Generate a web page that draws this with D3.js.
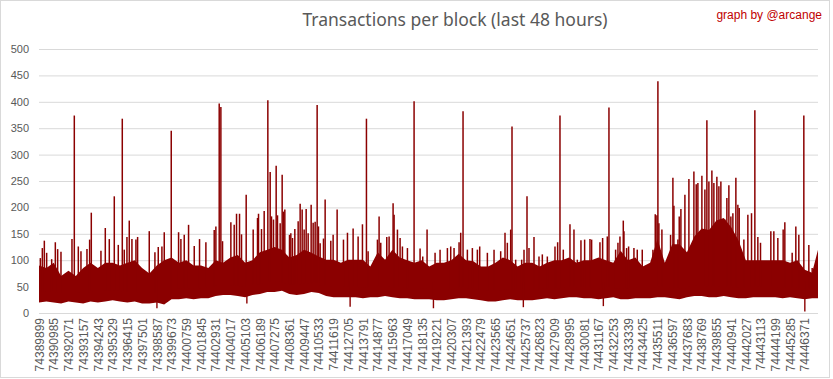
<!DOCTYPE html>
<html><head><meta charset="utf-8">
<script src="https://cdn.jsdelivr.net/npm/d3@7"></script>
<style>body{margin:0;background:#fff}svg{display:block}</style>
</head><body>
<svg id="c" width="833" height="379"></svg>
<script>
// ---- DATA ----
const firstBlock = 74389899;
const lastBlock = 74447350;
const yTicks = [0,50,100,150,200,250,300,350,400,450,500];
const xTickLabels = [74389899,74390985,74392071,74393157,74394243,74395329,74396415,74397501,74398587,74399673,
74400759,74401845,74402931,74404017,74405103,74406189,74407275,74408361,74409447,74410533,
74411619,74412705,74413791,74414877,74415963,74417049,74418135,74419221,74420307,74421393,
74422479,74423565,74424651,74425737,74426823,74427909,74428995,74430081,74431167,74432253,
74433339,74434425,74435511,74436597,74437683,74438769,74439855,74440941,74442027,74443113,
74444199,74445285,74446371];
// envelope of the dense band, one value per 543 blocks (last = final block)
const bandBlockStep = 543;
const bandTop = [90,85,95,70,80,70,85,95,85,95, 95,90,95,100,85,75,90,100,105,95,
100,90,90,85,100,95,105,110,95,100, 115,120,125,120,105,110,120,114,107,101,
101,95,101,101,101,88,115,101,120,105, 100,95,100,88,95,95,100,112,100,98,
88,88,95,105,100,88,95,95,88,95, 100,100,105,95,100,100,105,100,95,118,
100,105,88,95,140,95,130,130,115,145, 160,157,175,180,163,138,100,100,100,100,
100,100,95,100,82,76,120];
const bandLow = [20,22,20,18,22,20,18,22,20,22,24,22,20,22,18,18,20,16,
26,26,28,26,28,28,32,34,34,32,30,34,36,40,40,42,36,34,
36,40,38,32,30,30,30,30,28,30,30,32,30,28,28,26,26,26,
24,24,26,28,28,26,24,22,22,24,26,24,24,24,26,28,26,
28,30,30,28,28,26,28,30,26,26,28,28,28,30,30,28,26,
30,32,32,30,30,32,30,28,28,30,30,30,30,28,30,28,26,28,28];
// individual blocks reaching above the band
const spikeBlocks = [74389997,74390145,74390292,74390464,74390833,74391103,74391275,74391520,74392331,74392503,
74392798,74392994,74393437,74393633,74393756,74394468,74394788,74395083,74395451,74395746,
74396041,74396188,74396385,74396556,74396753,74397048,74397171,74398030,74398448,74398694,
74398964,74399136,74399652,74400193,74400364,74400610,74400929,74401348,74401738,74402207,
74402821,74402944,74403190,74403312,74403435,74404049,74404295,74404467,74404688,74404835,
74405179,74405695,74406014,74406088,74406309,74406506,74406776,74406948,74407046,74407193,
74407390,74407488,74407685,74407832,74407931,74408029,74408374,74408471,74408594,74408766,
74409012,74409159,74409307,74409454,74409602,74409749,74409970,74410118,74410265,74410412,
74410510,74410633,74410879,74411002,74411419,74411591,74411886,74412353,74412648,74413065,
74413434,74413753,74414048,74414170,74414858,74414981,74415104,74415547,74415719,74416013,
74416087,74416333,74416529,74416701,74417070,74417561,74418003,74418200,74418519,74419109,
74419477,74420018,74420263,74420509,74420878,74421000,74421172,74421491,74421860,74422228,
74422401,74422966,74423458,74423948,74424267,74424439,74424685,74424783,74425054,74425496,
74425668,74425889,74426036,74426405,74426773,74427019,74427388,74427953,74428149,74428321,
74428566,74429058,74429353,74429599,74429868,74430139,74430533,74430655,74431269,74431466,
74431810,74431933,74432424,74432596,74432744,74432990,74433039,74433235,74433382,74433775,
74434021,74434389,74435175,74435347,74435470,74435543,74435617,74435838,74436477,74436649,
74436723,74437018,74437116,74437239,74437534,74437829,74438197,74438369,74438492,74438787,
74439008,74439155,74439303,74439524,74439671,74439892,74440040,74440187,74440482,74440629,
74440777,74440924,74441072,74441293,74441440,74441539,74441883,74442177,74442447,74442693,
74442914,74443110,74443872,74444093,74444388,74444781,74444904,74445445,74445715,74445936,
74446305,74446674,74446920];
const spikeValues = [104,123,137,114,102,134,121,116,140,374, 126,117,121,139,190,118,161,140,221,129,
368,120,144,175,140,139,144,155,115,125, 126,153,345,153,140,148,167,127,140,134,
157,164,397,390,136,172,167,188,188,149, 224,158,180,188,159,193,403,267,183,177,
279,185,170,262,192,196,148,151,142,159, 174,207,196,158,197,151,205,171,173,394,
164,132,141,215,137,148,196,139,152,160, 145,168,368,117,139,183,133,144,145,208,
186,158,142,126,123,401,122,107,158,114, 120,123,126,123,134,152,382,120,123,120,
126,114,120,117,152,133,158,353,101,101, 120,221,123,144,107,111,107,126,134,374,
120,168,158,101,138,139,140,139,134,142, 145,389,120,133,145,175,155,123,126,123,
120,120,120,187,185,439,170,158,148,256, 203,139,183,197,224,254,268,244,246,260,
234,365,249,270,246,258,240,249,177,218, 242,183,189,256,205,199,139,186,189,384,
144,133,155,155,142,158,172,114,164,148, 374,129,85];
// individual blocks falling below the band
const dipBlocks = [74398596,74405229,74412844,74418989,74425619,74431519,74446379];
const dipValues = [9,18,12,9,11,13,3];

// ---- CHART ----
const svg = d3.select("#c");
const plot = {l:39, r:818, t:49, b:313};
const red = "#8b0000";

svg.append("rect").attr("x",0.5).attr("y",0.5).attr("width",829).attr("height",377)
  .attr("fill","#fff").attr("stroke","#d9d9d9");

const x = d3.scaleLinear().domain([firstBlock, lastBlock]).range([plot.l, plot.r]);
const y = d3.scaleLinear().domain([0, 500]).range([plot.b, plot.t]);

// gridlines + y axis
const yAxis = d3.axisLeft(y).tickValues(yTicks).tickSize(-(plot.r - plot.l)).tickPadding(10);
const gy = svg.append("g").attr("transform",`translate(${plot.l},0)`).call(yAxis);
gy.select(".domain").remove();
gy.selectAll(".tick line").attr("stroke","#d9d9d9").attr("stroke-width",1);
gy.selectAll(".tick text").attr("fill","#595959").style("font-family","'Liberation Sans', Arial, sans-serif").style("font-size","11px");

// band
const bandData = bandTop.map((t,i) => ({
  b: i < bandTop.length - 1 ? firstBlock + i*bandBlockStep : lastBlock,
  top: t, low: bandLow[i]
}));
const area = d3.area().x(d => x(d.b)).y0(d => y(d.low)).y1(d => y(d.top)).curve(d3.curveLinear);
svg.append("path").datum(bandData).attr("d", area).attr("fill", red);

const bandLowAt = b => {
  const i = Math.min(bandData.length - 2, Math.max(0, Math.floor((b - firstBlock)/bandBlockStep)));
  return Math.min(bandData[i].low, bandData[i+1].low);
};
const spikes = spikeBlocks.map((b,i) => ({b, v: spikeValues[i]}));
svg.append("g").selectAll("line").data(spikes).join("line")
  .attr("x1", d => x(d.b)).attr("x2", d => x(d.b))
  .attr("y1", d => y(bandLowAt(d.b) + 20)).attr("y2", d => y(d.v))
  .attr("stroke", red).attr("stroke-width", 1.5);
const dips = dipBlocks.map((b,i) => ({b, v: dipValues[i]}));
svg.append("g").selectAll("line").data(dips).join("line")
  .attr("x1", d => x(d.b)).attr("x2", d => x(d.b))
  .attr("y1", d => y(60)).attr("y2", d => y(d.v))
  .attr("stroke", red).attr("stroke-width", 1.4);

// x labels
svg.append("g").selectAll("text").data(xTickLabels).join("text")
  .attr("transform", d => `translate(${x(d)+0.5},318) rotate(-90)`)
  .attr("text-anchor","end").attr("dy","0.35em")
  .attr("fill","#595959").style("font-family","'Liberation Sans', Arial, sans-serif").style("font-size","12px")
  .text(d => d);

// titles
svg.append("text").attr("x",455).attr("y",26).attr("text-anchor","middle")
  .attr("fill","#595959").style("font-family","'Noto Sans', 'Open Sans', sans-serif").style("font-size","17.5px")
  .text("Transactions per block (last 48 hours)");
svg.append("text").attr("x",822).attr("y",19).attr("text-anchor","end")
  .attr("fill","#c00000").style("font-family","'Liberation Sans', Arial, sans-serif").style("font-size","12px")
  .text("graph by @arcange");
</script>
</body></html>
